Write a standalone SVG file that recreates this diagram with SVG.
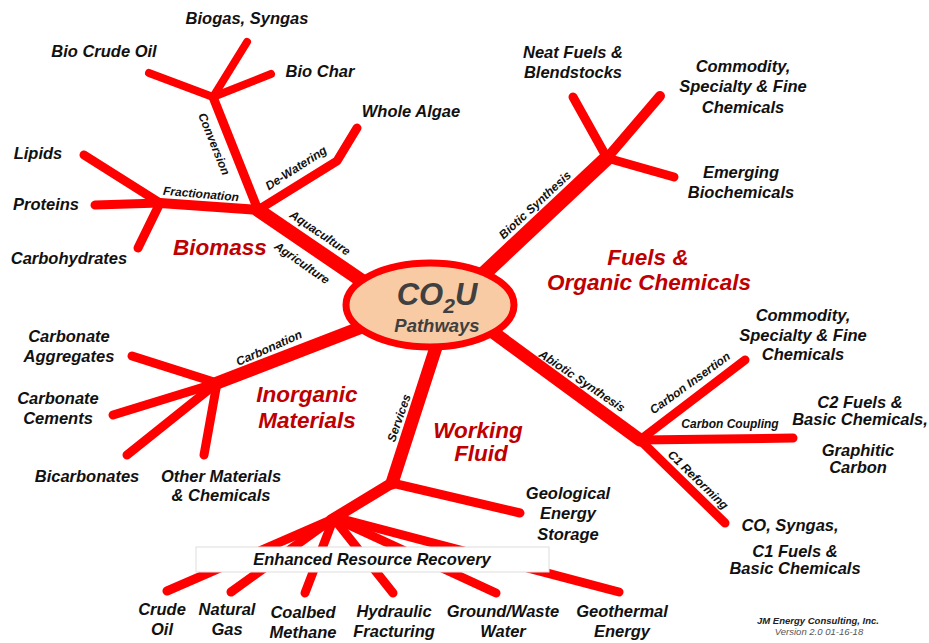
<svg xmlns="http://www.w3.org/2000/svg" width="929" height="643" viewBox="0 0 929 643">
<style>
.br{stroke:#ff0000;fill:none;stroke-linecap:round;stroke-linejoin:round}
.t{font-family:"Liberation Sans",Arial,sans-serif;font-weight:bold;font-style:italic;font-size:16.5px;fill:#111;text-anchor:middle}
.s{font-family:"Liberation Sans",Arial,sans-serif;font-weight:bold;font-style:italic;font-size:12px;fill:#111;text-anchor:middle}
.r{font-family:"Liberation Sans",Arial,sans-serif;font-weight:bold;font-style:italic;font-size:22.5px;fill:#c00000;text-anchor:middle}
</style>
<rect width="929" height="643" fill="#ffffff"/>
<g id="connectors">
  <line class="br" x1="390" y1="300" x2="258" y2="210" stroke-width="14"/>
  <line class="br" x1="258" y1="210" x2="213" y2="97" stroke-width="9"/>
  <line class="br" x1="213" y1="97" x2="149" y2="73" stroke-width="8"/>
  <line class="br" x1="213" y1="97" x2="247" y2="42" stroke-width="8"/>
  <line class="br" x1="213" y1="97" x2="271" y2="74" stroke-width="8"/>
  <polyline class="br" points="258,210 337,161 357,128" stroke-width="9"/>
  <line class="br" x1="258" y1="210" x2="160" y2="203" stroke-width="10"/>
  <line class="br" x1="160" y1="203" x2="84" y2="155" stroke-width="9"/>
  <line class="br" x1="160" y1="203" x2="95" y2="205" stroke-width="9"/>
  <line class="br" x1="160" y1="203" x2="138" y2="248" stroke-width="9"/>
  <line class="br" x1="475" y1="282" x2="607" y2="158" stroke-width="15"/>
  <line class="br" x1="607" y1="158" x2="573" y2="97" stroke-width="9"/>
  <line class="br" x1="607" y1="158" x2="660" y2="96" stroke-width="10"/>
  <line class="br" x1="607" y1="158" x2="674" y2="177" stroke-width="9"/>
  <line class="br" x1="375" y1="322" x2="217" y2="383" stroke-width="13"/>
  <line class="br" x1="217" y1="383" x2="132" y2="356" stroke-width="9"/>
  <line class="br" x1="217" y1="383" x2="113" y2="415" stroke-width="9"/>
  <line class="br" x1="217" y1="383" x2="127" y2="455" stroke-width="9"/>
  <line class="br" x1="217" y1="383" x2="204" y2="455" stroke-width="9"/>
  <line class="br" x1="440" y1="335" x2="392" y2="483" stroke-width="13"/>
  <line class="br" x1="392" y1="483" x2="520" y2="513" stroke-width="9"/>
  <line class="br" x1="392" y1="483" x2="331" y2="520" stroke-width="11"/>
  <line class="br" x1="331" y1="520" x2="167" y2="591" stroke-width="9"/>
  <line class="br" x1="331" y1="520" x2="231" y2="592" stroke-width="9"/>
  <line class="br" x1="333" y1="520" x2="305" y2="593" stroke-width="9"/>
  <line class="br" x1="335" y1="520" x2="393" y2="593" stroke-width="9"/>
  <line class="br" x1="338" y1="520" x2="496" y2="593" stroke-width="9"/>
  <line class="br" x1="342" y1="519" x2="619" y2="592" stroke-width="9"/>
  <line class="br" x1="490" y1="330" x2="640" y2="440" stroke-width="13"/>
  <line class="br" x1="640" y1="440" x2="745" y2="360" stroke-width="9"/>
  <line class="br" x1="640" y1="440" x2="793" y2="438" stroke-width="9"/>
  <line class="br" x1="640" y1="440" x2="725" y2="523" stroke-width="9"/>
</g>
<g id="err-box">
  <rect x="196" y="547" width="353" height="25" fill="#ffffff" stroke="#dddddd" stroke-width="1"/>
  <text class="t" x="372" y="565">Enhanced Resource Recovery</text>
</g>
<g id="center">
  <ellipse cx="430" cy="305" rx="84" ry="42" fill="#f8cba5" stroke="#ff0000" stroke-width="7"/>
  <text x="437" y="305" text-anchor="middle" font-family="Liberation Sans, Arial, sans-serif" font-weight="bold" font-style="italic" font-size="31" fill="#404040">CO<tspan font-size="21" dy="8">2</tspan><tspan dy="-8">U</tspan></text>
  <text x="437" y="332" text-anchor="middle" font-family="Liberation Sans, Arial, sans-serif" font-weight="bold" font-style="italic" font-size="18.5" fill="#404040">Pathways</text>
</g>
<g id="biomass">
  <text class="r" x="220" y="255">Biomass</text>
  <text class="t" x="247" y="24">Biogas, Syngas</text>
  <text class="t" x="104" y="57">Bio Crude Oil</text>
  <text class="t" x="320" y="77">Bio Char</text>
  <text class="t" x="411" y="117">Whole Algae</text>
  <text class="t" x="38" y="159">Lipids</text>
  <text class="t" x="46" y="210">Proteins</text>
  <text class="t" x="69" y="264">Carbohydrates</text>
  <text class="s" transform="translate(214,144) rotate(68)" y="4">Conversion</text>
  <text class="s" transform="translate(201,194) rotate(5)" y="4">Fractionation</text>
  <text class="s" transform="translate(296,168) rotate(-33)" y="4">De-Watering</text>
  <text class="s" transform="translate(320,233) rotate(34)" y="4">Aquaculture</text>
  <text class="s" transform="translate(302,263) rotate(35)" y="4">Agriculture</text>
</g>
<g id="fuels">
  <text class="r" x="648" y="265">Fuels &amp;</text>
  <text class="r" x="649" y="290">Organic Chemicals</text>
  <text class="t" x="573" y="58">Neat Fuels &amp;<tspan x="573" dy="20">Blendstocks</tspan></text>
  <text class="t" x="743" y="72">Commodity,<tspan x="743" dy="20">Specialty &amp; Fine</tspan><tspan x="743" dy="21">Chemicals</tspan></text>
  <text class="t" x="741" y="178">Emerging<tspan x="741" dy="20">Biochemicals</tspan></text>
  <text class="s" transform="translate(535,205) rotate(-43)" y="4">Biotic Synthesis</text>
</g>
<g id="inorganic">
  <text class="r" x="307" y="402">Inorganic</text>
  <text class="r" x="307" y="428">Materials</text>
  <text class="t" x="69" y="342">Carbonate<tspan x="69" dy="20">Aggregates</tspan></text>
  <text class="t" x="58" y="404">Carbonate<tspan x="58" dy="20">Cements</tspan></text>
  <text class="t" x="87" y="482">Bicarbonates</text>
  <text class="t" x="221" y="482">Other Materials<tspan x="221" dy="19">&amp; Chemicals</tspan></text>
  <text class="s" transform="translate(269,348) rotate(-24)" y="4">Carbonation</text>
</g>
<g id="working-fluid">
  <text class="r" x="478" y="438">Working</text>
  <text class="r" x="481" y="461">Fluid</text>
  <text class="s" transform="translate(399,418) rotate(-71)" y="4">Services</text>
  <text class="t" x="568" y="499">Geological<tspan x="568" dy="20">Energy</tspan><tspan x="568" dy="21">Storage</tspan></text>
  <text class="t" x="162" y="615">Crude<tspan x="162" dy="20">Oil</tspan></text>
  <text class="t" x="227" y="615">Natural<tspan x="227" dy="20">Gas</tspan></text>
  <text class="t" x="303" y="618">Coalbed<tspan x="303" dy="20">Methane</tspan></text>
  <text class="t" x="394" y="617">Hydraulic<tspan x="394" dy="20">Fracturing</tspan></text>
  <text class="t" x="503" y="617">Ground/Waste<tspan x="503" dy="20">Water</tspan></text>
  <text class="t" x="622" y="617">Geothermal<tspan x="622" dy="20">Energy</tspan></text>
</g>
<g id="abiotic">
  <text class="s" transform="translate(582,381) rotate(34)" y="4">Abiotic Synthesis</text>
  <text class="s" transform="translate(690,383) rotate(-36)" y="4">Carbon Insertion</text>
  <text class="s" x="730" y="428">Carbon Coupling</text>
  <text class="s" transform="translate(698,480) rotate(44)" y="4">C1 Reforming</text>
  <text class="t" x="803" y="321">Commodity,<tspan x="803" dy="20">Specialty &amp; Fine</tspan><tspan x="803" dy="19">Chemicals</tspan></text>
  <text class="t" x="860" y="408">C2 Fuels &amp;<tspan x="860" dy="17">Basic Chemicals,</tspan></text>
  <text class="t" x="858" y="456">Graphitic<tspan x="858" dy="17">Carbon</tspan></text>
  <text class="t" x="790" y="531">CO, Syngas,</text>
  <text class="t" x="795" y="557">C1 Fuels &amp;<tspan x="795" dy="17">Basic Chemicals</tspan></text>
</g>
<g id="credit">
  <text x="818" y="624" text-anchor="middle" font-family="Liberation Sans, Arial, sans-serif" font-weight="bold" font-style="italic" font-size="9.5" fill="#222">JM Energy Consulting, Inc.</text>
  <text x="819" y="635" text-anchor="middle" font-family="Liberation Sans, Arial, sans-serif" font-style="italic" font-size="9.5" fill="#555">Version 2.0  01-16-18</text>
</g>
</svg>
